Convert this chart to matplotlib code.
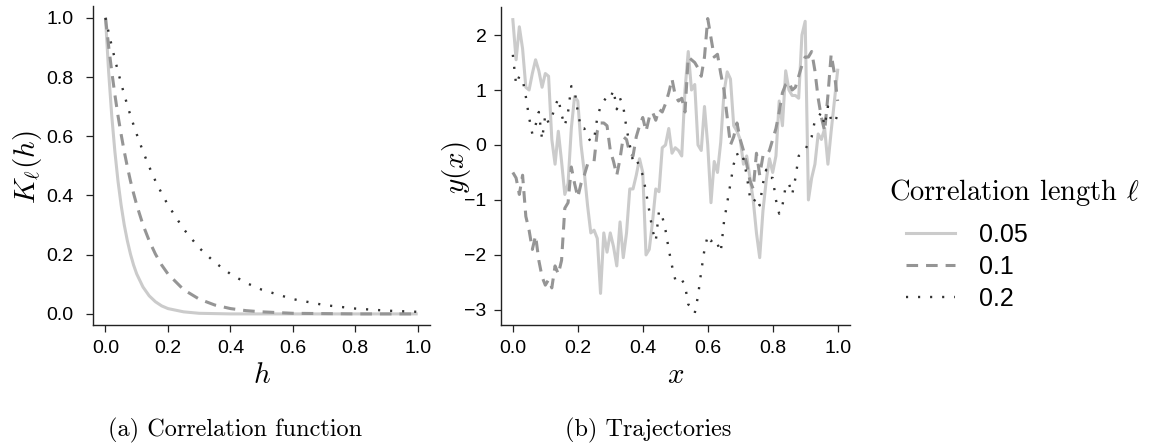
import matplotlib
matplotlib.use("Agg")
import matplotlib.pyplot as plt

plt.rcParams['font.family'] = ['Liberation Sans', 'DejaVu Sans']
plt.rcParams['mathtext.fontset'] = 'cm'

# ---------------- data ----------------
lengths = ["0.05", "0.1", "0.2"]

# (a) correlation function
h = [0, 0.01, 0.02, 0.03, 0.04, 0.05, 0.06, 0.07, 0.08, 0.09, 0.10,
     0.12, 0.14, 0.16, 0.18, 0.20, 0.25, 0.30, 0.35, 0.40, 0.45, 0.50,
     0.60, 0.70, 0.80, 0.90, 1.00]
K_005 = [1.000, 0.819, 0.670, 0.549, 0.449, 0.368, 0.301, 0.247, 0.202, 0.165, 0.135,
         0.091, 0.061, 0.041, 0.027, 0.018, 0.007, 0.002, 0.001, 0.000, 0.000, 0.000,
         0.000, 0.000, 0.000, 0.000, 0.000]
K_01 = [1.000, 0.905, 0.819, 0.741, 0.670, 0.607, 0.549, 0.497, 0.449, 0.407, 0.368,
        0.301, 0.247, 0.202, 0.165, 0.135, 0.082, 0.050, 0.030, 0.018, 0.011, 0.007,
        0.002, 0.001, 0.000, 0.000, 0.000]
K_02 = [1.000, 0.951, 0.905, 0.861, 0.819, 0.779, 0.741, 0.705, 0.670, 0.638, 0.607,
        0.549, 0.497, 0.449, 0.407, 0.368, 0.287, 0.223, 0.174, 0.135, 0.105, 0.082,
        0.050, 0.030, 0.018, 0.011, 0.007]

# (b) trajectories on x = 0.00, 0.01, ..., 1.00
x = [i / 100 for i in range(101)]
y_005 = [2.28, 1.55, 2.15, 1.75, 1.05, 1.00, 1.30, 1.55, 1.35, 1.05,
         1.30, 1.25, 0.10, -0.35, 0.25, -0.30, -0.90, -0.70, 0.30, 0.88,
         0.80, 0.00, -0.50, -1.10, -1.60, -1.55, -1.70, -2.70, -1.60, -1.95,
         -1.60, -1.85, -2.20, -1.40, -2.05, -1.60, -0.80, -0.80, -0.55, -0.25,
         -0.50, -2.00, -1.90, -1.40, -0.80, -0.85, -0.05, 0.00, 0.30, -0.15,
         -0.05, -0.10, -0.20, 1.00, 1.70, 1.00, 1.10, 0.00, -0.10, 0.70,
         0.00, -1.05, -0.30, -0.50, 0.05, 0.95, 1.33, 1.20, 0.35, 0.25,
         0.10, -0.35, -0.20, -0.60, -1.00, -1.60, -2.05, -1.20, -0.65, -0.25,
         -0.50, -0.20, 0.80, 0.35, 1.35, 1.00, 0.90, 0.90, 0.85, 2.00,
         2.25, -1.00, -0.60, -0.35, 0.20, 0.10, 0.30, -0.35, 0.25, 0.80,
         1.36]
y_01 = [-0.50, -0.60, -0.90, -0.55, -1.30, -1.55, -1.90, -1.65, -2.10, -2.40,
        -2.55, -2.45, -2.60, -2.20, -2.35, -2.10, -1.15, -1.05, -0.40, -0.70,
        -0.95, -0.70, -0.55, -0.35, -0.35, -0.30, 0.25, 0.40, 0.40, 0.35,
        -0.10, -0.30, -0.55, -0.25, 0.15, 0.10, -0.15, -0.20, 0.15, 0.35,
        0.50, 0.25, 0.50, 0.60, 0.45, 0.65, 0.60, 0.75, 0.95, 1.20,
        0.90, 0.80, 0.85, 0.60, 1.60, 1.55, 1.50, 1.40, 1.25, 1.60,
        2.30, 1.95, 1.60, 1.65, 1.30, 1.00, 0.50, 0.00, 0.15, 0.40,
        0.10, -0.10, -0.35, -0.65, -0.80, -0.15, -0.55, -0.20, -0.20, -0.10,
        0.10, 0.30, 0.60, 0.95, 1.10, 1.15, 1.00, 1.05, 1.25, 1.45,
        1.60, 1.60, 1.70, 1.35, 0.85, 0.50, 0.25, 0.90, 1.65, 1.30,
        0.80]
y_02 = [1.64, 1.10, 1.25, 1.20, 0.88, 0.50, 0.20, 0.36, 0.60, 0.10,
        0.55, 0.40, 0.50, 0.70, 0.85, 0.55, 0.35, 0.60, 1.07, 1.00,
        0.60, 0.30, 0.30, 0.15, 0.06, 0.10, 0.50, 0.70, 0.80, 0.88,
        0.85, 1.00, 0.65, 0.85, 0.70, 0.30, 0.00, -0.30, -0.25, -0.40,
        -0.55, -0.85, -1.20, -1.55, -1.75, -1.20, -1.30, -1.55, -1.90, -2.20,
        -2.45, -2.40, -2.45, -2.55, -2.90, -2.95, -3.06, -2.75, -2.30, -1.90,
        -1.65, -1.75, -1.70, -1.80, -1.95, -1.40, -1.05, -0.70, -0.35, -0.15,
        -0.30, -0.25, -0.55, -0.95, -1.05, -0.95, -1.10, -0.70, -0.45, -0.60,
        -0.60, -1.00, -1.25, -1.10, -0.75, -0.70, -0.90, -0.60, -0.20, -0.15,
        -0.10, 0.05, 0.15, 0.45, 0.50, 0.60, 0.35, 0.70, 0.45, 0.40,
        0.55]

ticks01 = [0.0, 0.2, 0.4, 0.6, 0.8, 1.0]
ticks01_labels = ["0.0", "0.2", "0.4", "0.6", "0.8", "1.0"]
ticks_y = [-3, -2, -1, 0, 1, 2]

# ---------------- styles ----------------
colors = ['#cbcbcb', '#959595', '#333333']
styles = ['-', (0, (3.8, 2.6)), (0, (0.9, 4.2))]
widths = [2.2, 2.2, 1.7]

W, H = 1153, 445
fig = plt.figure(figsize=(W / 100, H / 100), dpi=100)


def ax_rect(x0, x1, y0, y1):
    return [x0 / W, 1 - y1 / H, (x1 - x0) / W, (y1 - y0) / H]


axA = fig.add_axes(ax_rect(93, 430.2, 6, 325))
axB = fig.add_axes(ax_rect(500.5, 850, 7, 325))

curvesA = [K_005, K_01, K_02]
handles = []
for k in range(3):
    axA.plot(h, curvesA[k], color=colors[k], linestyle=styles[k], lw=widths[k],
             solid_capstyle='butt', dash_capstyle='butt')
trajs = [y_005, y_01, y_02]
for k in range(3):
    ln, = axB.plot(x, trajs[k], color=colors[k], linestyle=styles[k], lw=widths[k],
                   solid_joinstyle='round', dash_capstyle='butt')
    handles.append(ln)

axA.set_xlim(-0.04, 1.04)
axA.set_ylim(-0.0375, 1.04)
axB.set_xlim(-0.038, 1.038)
axB.set_ylim(-3.275, 2.51)

for ax in (axA, axB):
    for s in ('top', 'right'):
        ax.spines[s].set_visible(False)
    for s in ('left', 'bottom'):
        ax.spines[s].set_linewidth(1.0)
        ax.spines[s].set_color('#222222')
    ax.set_xticks(ticks01)
    ax.set_xticklabels(ticks01_labels)
    ax.tick_params(axis='both', direction='out', length=4.8, width=0.9,
                   color='#222222', labelsize=14)
    ax.tick_params(axis='x', pad=6.3)

axA.tick_params(axis='y', pad=9.4)
axB.tick_params(axis='y', pad=5.3)

axA.set_yticks(ticks01)
axA.set_yticklabels(ticks01_labels)
axB.set_yticks(ticks_y)

axA.set_xlabel(r'$h$', fontsize=21)
axA.set_ylabel(r'$K_\ell(h)$', fontsize=21)
axB.set_xlabel(r'$x$', fontsize=21)
axB.set_ylabel(r'$y(x)$', fontsize=21)
for ax, yl in ((axA, -0.195), (axB, -0.125)):
    ax.xaxis.set_label_coords(0.5, -0.157)
    ax.xaxis.label.set_va('center')
    ax.yaxis.set_label_coords(yl, 0.495)
    ax.yaxis.label.set_va('center')

# captions
fig.text(235 / W, 1 - 430 / H, '(a) Correlation function', family='cmr10',
         fontsize=17.5, ha='center', va='center')
fig.text(648 / W, 1 - 430 / H, '(b) Trajectories', family='cmr10',
         fontsize=17.5, ha='center', va='center')

# legend
fig.text(889 / W, 1 - 192 / H, r'Correlation length $\ell$', family='cmr10',
         fontsize=20.5, ha='left', va='center')
fig.legend(handles, lengths, loc='upper left',
           bbox_to_anchor=(906 / W, 1 - 223 / H), frameon=False,
           fontsize=18, handlelength=1.95, handletextpad=0.95,
           labelspacing=0.32, borderpad=0, borderaxespad=0)

fig.savefig('out.png', dpi=100)
